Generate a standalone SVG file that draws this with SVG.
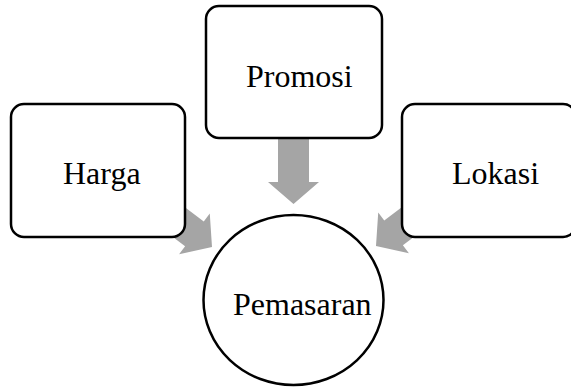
<svg xmlns="http://www.w3.org/2000/svg" width="571" height="387" viewBox="0 0 571 387">
<style>
.box{fill:#fff;stroke:#000;stroke-width:2.5}
.arr{fill:#a5a5a5;stroke:none}
.lbl{font-family:"Liberation Serif","Times New Roman",serif;font-size:32px;fill:#000}
</style>
<defs>
<polygon id="blk" points="-15.5,-70 15.5,-70 15.5,-22 25.5,-22 0,0 -25.5,-22 -15.5,-22"/>
</defs>
<rect width="571" height="387" fill="#fff"/>
<g id="connectors">
<use href="#blk" class="arr" transform="translate(293.5,204)"/>
<use href="#blk" class="arr" transform="translate(212,247) rotate(-53)"/>
<use href="#blk" class="arr" transform="translate(376,246) rotate(53)"/>
</g>
<g id="harga">
<rect class="box" x="11" y="104" width="174" height="133" rx="13"/>
<text class="lbl" x="63" y="184">Harga</text>
</g>
<g id="promosi">
<rect class="box" x="206" y="6" width="176" height="132" rx="13"/>
<text class="lbl" x="246" y="87">Promosi</text>
</g>
<g id="lokasi">
<rect class="box" x="402" y="104" width="174" height="133" rx="13"/>
<text class="lbl" x="452" y="184">Lokasi</text>
</g>
<g id="pemasaran">
<ellipse class="box" cx="293.5" cy="300" rx="90" ry="85"/>
<text class="lbl" x="233" y="315">Pemasaran</text>
</g>
</svg>
